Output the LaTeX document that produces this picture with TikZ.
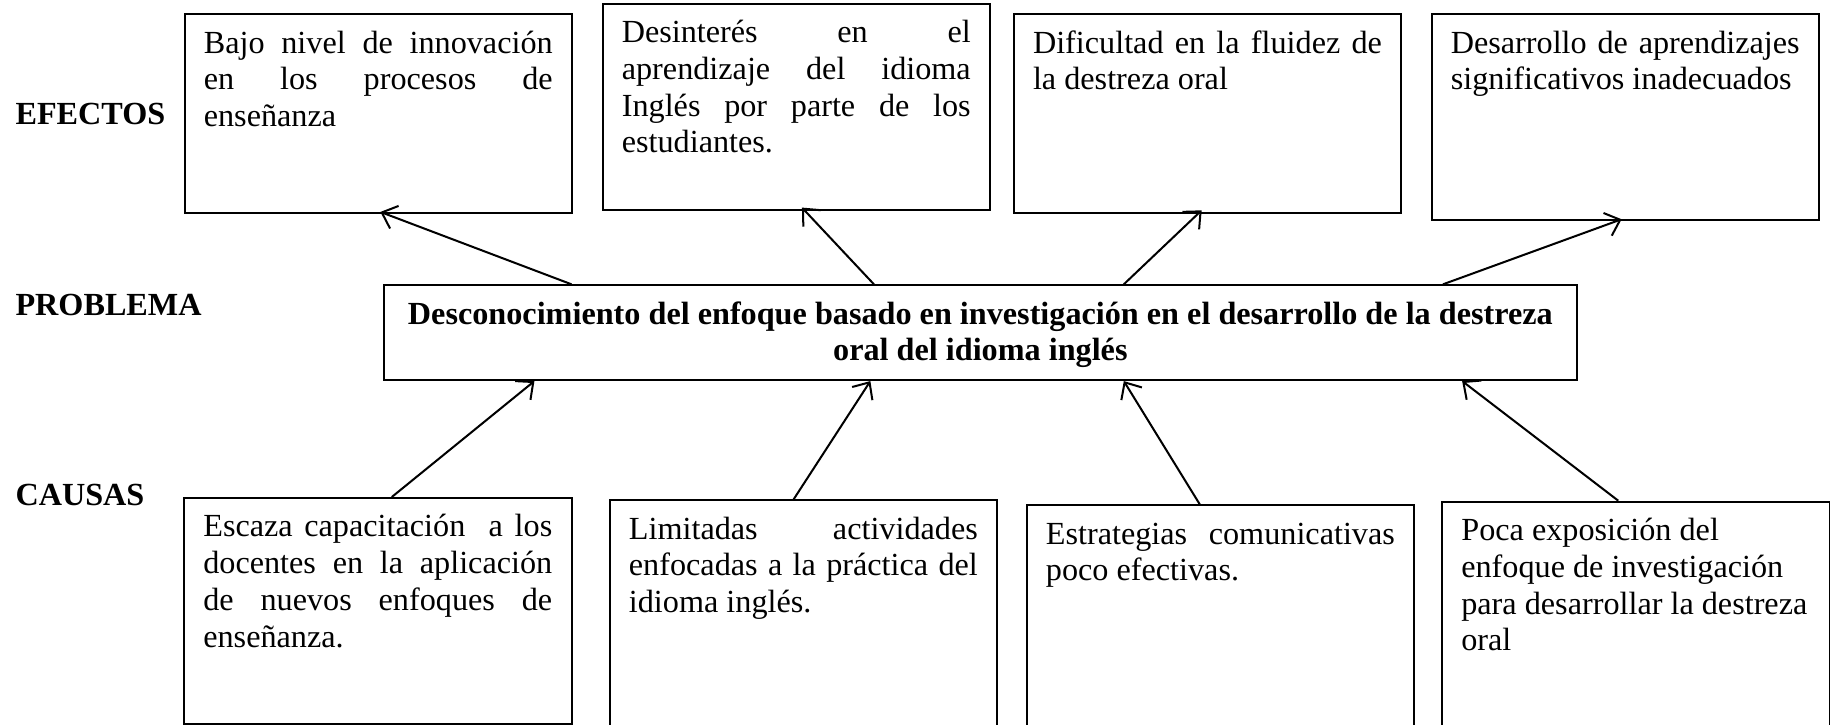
\documentclass[tikz,border=0pt]{standalone}
\usepackage{fontspec}
\setmainfont{Liberation Serif}
\usetikzlibrary{arrows.meta,calc}
\tolerance=10000
\hbadness=10000
\tikzstyle{caja}=[draw,line width=0.75pt,anchor=north west,inner xsep=7.2pt,inner ysep=4.9pt,font=\fontsize{12}{13.7}\selectfont]
\tikzstyle{titulo}=[anchor=base west,inner sep=0pt,font=\fontsize{12}{13.7}\selectfont\bfseries]
\tikzstyle{edge}=[draw,line width=0.75pt,-{Straight Barb[length=5pt,width=9pt]}]
\newcommand{\cajatexto}[3][130pt]{\parbox[t][#2][t]{#1}{\strut #3}}

\begin{document}
\begin{tikzpicture}[x=0.3726pt,y=-0.3726pt]
\useasboundingbox (0,0) rectangle (1830,724);

% etiquetas de la izquierda
\node[titulo] (efectos) at (15,124.5) {EFECTOS};
\node[titulo] (problema) at (15,315) {PROBLEMA};
\node[titulo] (causas) at (15,505) {CAUSAS};

% efectos
\node[caja] (e1) at (183.5,13.3) {\cajatexto{64.1pt}{Bajo nivel de innovación\linebreak en los procesos de\linebreak enseñanza}};
\node[caja] (e2) at (601.5,2.7) {\cajatexto{67.1pt}{Desinterés en el\linebreak aprendizaje del idioma\linebreak Inglés por parte de los\linebreak estudiantes.}};
\node[caja] (e3) at (1012.7,13.3) {\cajatexto{64.1pt}{Dificultad en la fluidez de\linebreak la destreza oral}};
\node[caja] (e4) at (1430.5,13.3) {\cajatexto{66.8pt}{Desarrollo de aprendizajes\linebreak significativos inadecuados}};

% problema
\node[caja] (pb) at (382.6,284.3) {\cajatexto[430.3pt]{25.5pt}{\centering\bfseries Desconocimiento del enfoque basado en investigación en el desarrollo de la destreza\\ oral del idioma inglés}};

% causas
\node[caja] (c1) at (183,497) {\cajatexto{74.3pt}{Escaza capacitación\ \ a los\linebreak docentes en la aplicación\linebreak de nuevos enfoques de\linebreak enseñanza.}};
\node[caja] (c2) at (608.6,499.3) {\cajatexto{75.4pt}{Limitadas actividades\linebreak enfocadas a la práctica del\linebreak idioma inglés.}};
\node[caja] (c3) at (1025.6,504.3) {\cajatexto{73.5pt}{Estrategias comunicativas\linebreak poco efectivas.}};
\node[caja] (c4) at (1441,500.7) {\cajatexto{74.9pt}{\raggedright Poca exposición del\\ enfoque de investigación\\ para desarrollar la destreza\\ oral}};

\foreach \dest/\fa/\fb in {e1/0.158/0.517, e2/0.411/0.523, e3/0.620/0.476, e4/0.887/0.479}
    \path[edge,shorten >=-1.8pt] ($(pb.north west)!\fa!(pb.north east)$) -- ($(\dest.south west)!\fb!(\dest.south east)$);

\foreach \source/\fa/\fb in {c1/0.536/0.127, c2/0.475/0.408, c3/0.447/0.620, c4/0.455/0.903}
    \path[edge] ($(\source.north west)!\fa!(\source.north east)$) -- ($(pb.south west)!\fb!(pb.south east)$);

\end{tikzpicture}
\end{document}
